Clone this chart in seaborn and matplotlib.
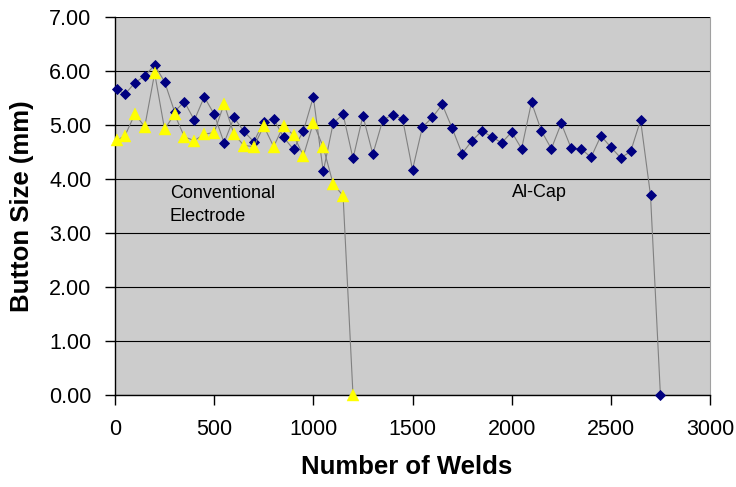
import matplotlib
matplotlib.use("Agg")
import matplotlib.pyplot as plt
import seaborn as sns
from matplotlib.ticker import FormatStrFormatter

# Al-Cap electrode: button size vs number of welds
alcap_welds = [10, 50, 100, 150, 200, 250, 300, 350, 400, 450, 500, 550, 600, 650,
               700, 750, 800, 850, 900, 950, 1000, 1050, 1100, 1150, 1200, 1250,
               1300, 1350, 1400, 1450, 1500, 1550, 1600, 1650, 1700, 1750, 1800,
               1850, 1900, 1950, 2000, 2050, 2100, 2150, 2200, 2250, 2300, 2350,
               2400, 2450, 2500, 2550, 2600, 2650, 2700, 2750]
alcap_size = [5.66, 5.57, 5.78, 5.91, 6.11, 5.80, 5.25, 5.43, 5.09, 5.52, 5.20, 4.67,
              5.14, 4.88, 4.69, 5.06, 5.12, 4.77, 4.55, 4.89, 5.52, 4.14, 5.03, 5.20,
              4.38, 5.17, 4.46, 5.09, 5.19, 5.11, 4.17, 4.96, 5.14, 5.38, 4.94, 4.47,
              4.71, 4.89, 4.78, 4.67, 4.87, 4.56, 5.42, 4.89, 4.56, 5.03, 4.57, 4.56,
              4.40, 4.80, 4.59, 4.39, 4.51, 5.09, 3.70, 0.00]

# Conventional electrode
conv_welds = [10, 50, 100, 150, 200, 250, 300, 350, 400, 450, 500, 550, 600, 650,
              700, 750, 800, 850, 900, 950, 1000, 1050, 1100, 1150, 1200]
conv_size = [4.72, 4.80, 5.20, 4.97, 5.96, 4.92, 5.20, 4.78, 4.71, 4.83, 4.86, 5.39,
             4.83, 4.62, 4.60, 4.98, 4.60, 4.99, 4.81, 4.43, 5.04, 4.59, 3.91, 3.69,
             0.00]

sns.set_style("ticks")
plt.rcParams['font.family'] = ['Liberation Sans', 'DejaVu Sans']
plt.rcParams.update({'text.color': 'black', 'axes.labelcolor': 'black',
                     'xtick.color': 'black', 'ytick.color': 'black'})

fig = plt.figure(figsize=(7.36, 4.87), dpi=100)
ax = fig.add_axes([115 / 736, 1 - 395 / 487, 595 / 736, 378 / 487])
ax.set_facecolor('#CCCCCC')

sns.lineplot(x=alcap_welds, y=alcap_size, ax=ax, sort=False, estimator=None,
             color='#808080', linewidth=0.8, marker='D', markersize=5,
             markerfacecolor='#000080', markeredgecolor='#000080',
             markeredgewidth=0.6, zorder=3)
sns.lineplot(x=conv_welds, y=conv_size, ax=ax, sort=False, estimator=None,
             color='#808080', linewidth=0.8, marker='^', markersize=8,
             markerfacecolor='#FFFF00', markeredgecolor='#FFFF00',
             markeredgewidth=0.3, zorder=4)
for line in ax.lines:
    line.set_clip_on(False)

ax.set_xlim(0, 3000)
ax.set_ylim(0, 7)
ax.set_xticks([0, 500, 1000, 1500, 2000, 2500, 3000])
ax.set_yticks([0, 1, 2, 3, 4, 5, 6, 7])
ax.yaxis.set_major_formatter(FormatStrFormatter('%.2f'))
ax.yaxis.grid(True, color='black', linewidth=0.8)
ax.set_axisbelow(True)

ax.tick_params(axis='both', direction='out', length=7, width=1, color='black',
               labelcolor='black', labelsize=15.5, pad=10)
for side in ['left', 'bottom']:
    ax.spines[side].set_color('black')
    ax.spines[side].set_linewidth(1)
ax.spines['right'].set_color('#A0A0A0')
ax.spines['top'].set_visible(False)

ax.set_xlabel("Number of Welds", fontsize=18.5, fontweight='bold', color='black')
ax.set_ylabel("Button Size (mm)", fontsize=18.5, fontweight='bold', color='black')
ax.xaxis.label.set_va('center')
ax.yaxis.label.set_va('center')
ax.xaxis.set_label_coords(0.49, -0.19)
ax.yaxis.set_label_coords(-0.156, 0.5)

ax.text(276, 3.88, "Conventional\nElectrode", fontsize=13, va='top', ha='left',
        linespacing=1.45, color='black')
ax.text(2000, 3.9, "Al-Cap", fontsize=13, va='top', ha='left', color='black')

fig.savefig("out.png", dpi=100)
